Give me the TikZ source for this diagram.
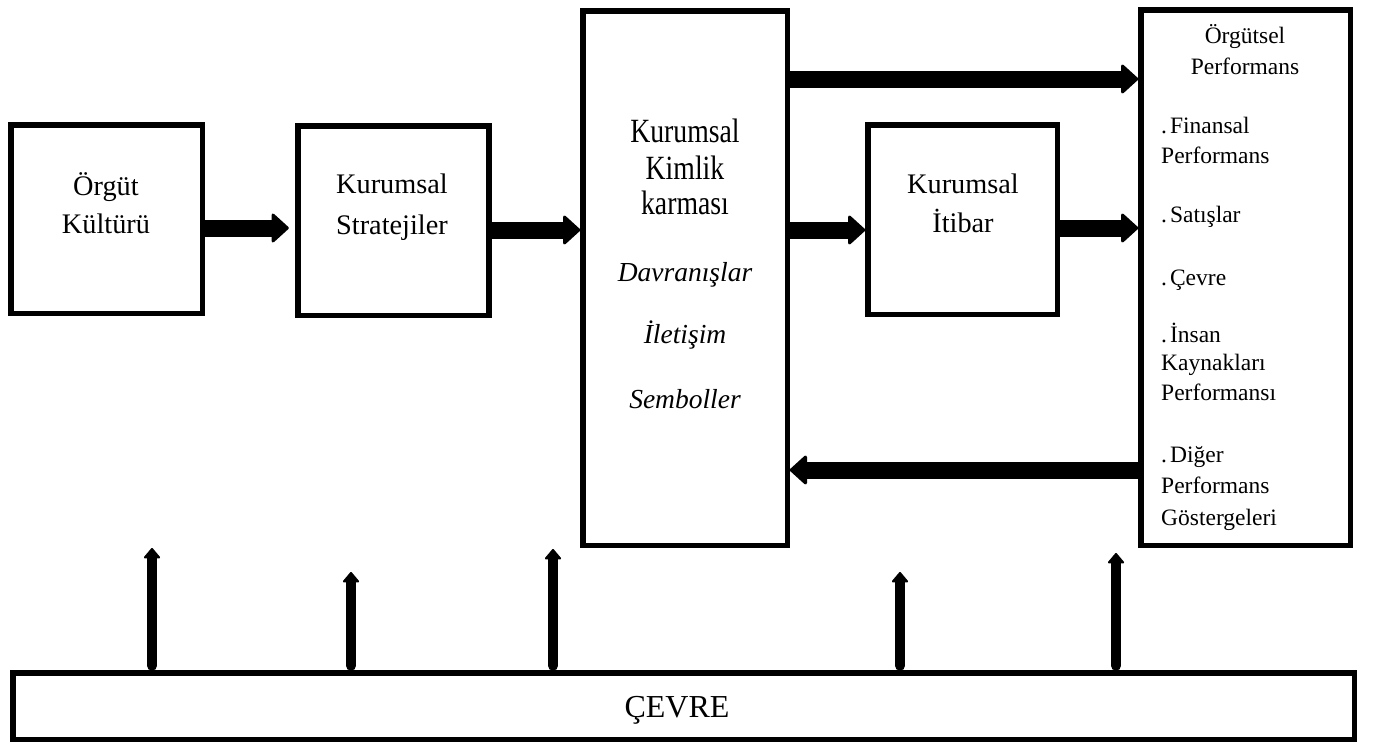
\documentclass[tikz,border=0pt]{standalone}
\usepackage{fontspec}
\usepackage{graphicx}
\setmainfont{Liberation Serif}
\usetikzlibrary{arrows.meta}
\begin{document}
\begin{tikzpicture}[x=1pt,y=-1pt,
  box/.style={draw, line width=5.5pt, fill=white, inner sep=0pt, outer sep=0pt, anchor=north west},
  lbl/.style={anchor=base, inner sep=0pt, font=\fontsize{28.3}{33}\selectfont},
  lblit/.style={anchor=base, inner sep=0pt, font=\fontsize{27.5}{33}\selectfont\itshape},
  perf/.style={anchor=base west, inner sep=0pt, font=\fontsize{23.5}{28}\selectfont},
  perfc/.style={anchor=base, inner sep=0pt, font=\fontsize{23.5}{28}\selectfont},
  flow/.style={line width=17pt, -{Triangle[length=18pt,width=32pt,line width=3pt,round]}},
  envarrow/.style={line width=10pt, line cap=round, -{Triangle[length=11pt,width=18pt,line width=2pt,round]}},
]
% canvas
\fill[white] (0,0) rectangle (1373,744);
\useasboundingbox (0,0) rectangle (1373,744);

% boxes
\node[box, minimum width=191.5pt, minimum height=188.5pt] (b1) at (10.75,124.75) {};
\node[box, minimum width=191pt,   minimum height=189.5pt] (b2) at (297.75,125.75) {};
\node[box, minimum width=204.5pt, minimum height=534.5pt] (b3) at (582.75,10.75) {};
\node[box, minimum width=189.5pt, minimum height=189.5pt] (b4) at (867.75,124.75) {};
\node[box, minimum width=209.5pt, minimum height=535.5pt] (b5) at (1140.75,9.75) {};
\node[box, minimum width=1341.5pt, minimum height=66.5pt] (env) at (12.75,672.75) {};

% box texts
\node[lbl] (t1a) at (106,195) {Örgüt};
\node[lbl] (t1b) at (106,233) {Kültürü};
\node[lbl] (t2a) at (392,193) {Kurumsal};
\node[lbl] (t2b) at (392,234) {Stratejiler};
\node[lbl] (t3a) at (685,142) {\scalebox{0.98}[1.2]{Kurumsal}};
\node[lbl] (t3b) at (685,179) {\scalebox{0.98}[1.2]{Kimlik}};
\node[lbl] (t3c) at (685,214) {\scalebox{0.98}[1.2]{karması}};
\node[lblit] (t3d) at (685,281) {Davranışlar};
\node[lblit] (t3e) at (685,343) {İletişim};
\node[lblit] (t3f) at (685,408) {Semboller};
\node[lbl] (t4a) at (963,193) {Kurumsal};
\node[lbl] (t4b) at (963,232) {İtibar};
\node[perfc] (t5a) at (1245,43) {Örgütsel};
\node[perfc] (t5b) at (1245,74) {Performans};
\node[perf] (t5c) at (1161,133) {.\kern3pt Finansal};
\node[perf] (t5d) at (1161,163) {Performans};
\node[perf] (t5e) at (1161,222) {.\kern3pt Satışlar};
\node[perf] (t5f) at (1161,285) {.\kern3pt Çevre};
\node[perf] (t5g) at (1161,342) {.\kern3pt İnsan};
\node[perf] (t5h) at (1161,370) {Kaynakları};
\node[perf] (t5i) at (1161,400) {Performansı};
\node[perf] (t5j) at (1161,462) {.\kern3pt Diğer};
\node[perf] (t5k) at (1161,493) {Performans};
\node[perf] (t5l) at (1161,525) {Göstergeleri};
\node[anchor=base, inner sep=0pt, font=\fontsize{32}{36}\selectfont] (tenv) at (677,717) {ÇEVRE};

% flow arrows between boxes
\draw[flow, shorten >=9pt] (b1.east |- 0,228) -- (b2.west |- 0,228);
\draw[flow, shorten >=2.5pt] (b2.east |- 0,230) -- (b3.west |- 0,230);
\draw[flow, shorten >=2.5pt] (b3.east |- 0,230) -- (b4.west |- 0,230);
\draw[flow, shorten >=2.5pt] (b4.east |- 0,228) -- (b5.west |- 0,228);
\draw[flow, shorten >=2.5pt] (b3.east |- 0,79) -- (b5.west |- 0,79);
\draw[flow, shorten >=2.5pt] (b5.west |- 0,470) -- (b3.east |- 0,470);

% influences rising from the environment
\coordinate (v1) at (152,548);
\coordinate (v2) at (351,572);
\coordinate (v3) at (553,549);
\coordinate (v4) at (900,572);
\coordinate (v5) at (1116,553);
\foreach \v in {v1,v2,v3,v4,v5}
  \draw[envarrow, shorten <=7pt] (env.north -| \v) -- (\v);
\end{tikzpicture}
\end{document}
